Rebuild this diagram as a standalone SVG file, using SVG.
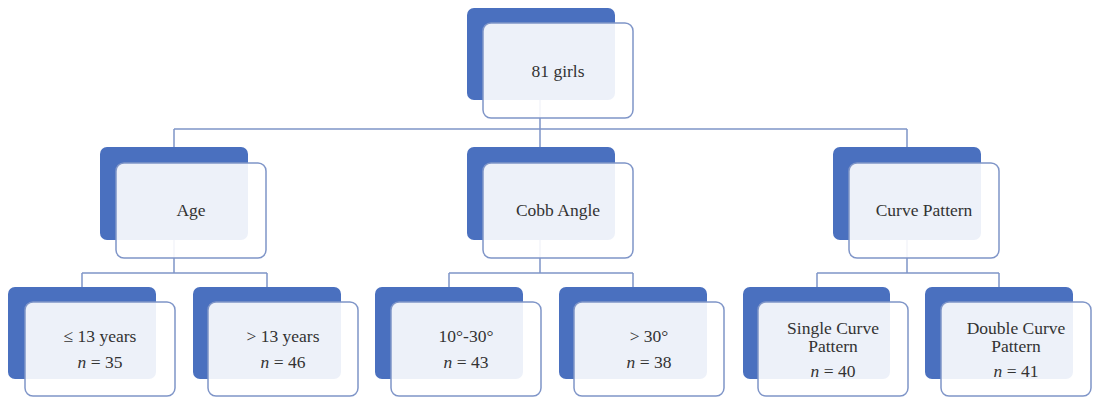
<svg xmlns="http://www.w3.org/2000/svg" width="1093" height="398" viewBox="0 0 1093 398">
<style>
.back{fill:#4a70bf;}
.front{fill:#ffffff;fill-opacity:0.9;stroke:#7f95c8;stroke-width:1.5;}
.conn{fill:none;stroke:#7f95c8;stroke-width:1.5;}
.t{font-family:'Liberation Serif','DejaVu Serif',serif;font-size:17.5px;fill:#333333;text-anchor:middle;}
</style>
<rect width="1093" height="398" fill="#ffffff"/>
<g id="connectors">
<path class="conn" d="M540,100 V129 M174,129 H907 M174,129 V147 M540,129 V147 M907,129 V147"/>
<path class="conn" d="M174,240 V273 M82,273 H267 M82,273 V287 M267,273 V287"/>
<path class="conn" d="M540,240 V273 M449,273 H633 M449,273 V287 M633,273 V287"/>
<path class="conn" d="M907,240 V273 M817,273 H999 M817,273 V287 M999,273 V287"/>
</g>
<g id="n-root">
<rect class="back" x="467" y="8" width="148" height="92" rx="7"/>
<rect class="front" x="483" y="23" width="150" height="95" rx="8"/>
<text class="t" x="558" y="77" font-family="Liberation Serif, DejaVu Serif, serif">81 girls</text>
</g>
<g id="n-age">
<rect class="back" x="100" y="147" width="148" height="93" rx="7"/>
<rect class="front" x="116" y="163" width="150" height="95" rx="8"/>
<text class="t" x="191" y="216">Age</text>
</g>
<g id="n-cobb">
<rect class="back" x="467" y="147" width="148" height="93" rx="7"/>
<rect class="front" x="483" y="163" width="150" height="95" rx="8"/>
<text class="t" x="558" y="216">Cobb Angle</text>
</g>
<g id="n-curve">
<rect class="back" x="833" y="147" width="148" height="93" rx="7"/>
<rect class="front" x="849" y="163" width="150" height="95" rx="8"/>
<text class="t" x="924" y="216">Curve Pattern</text>
</g>
<g id="n-age-le13">
<rect class="back" x="8" y="287" width="148" height="92" rx="7"/>
<rect class="front" x="25" y="302" width="150" height="94" rx="8"/>
<text class="t" x="100" y="342">≤ 13 years</text>
<text class="t" x="100" y="368"><tspan font-style="italic">n</tspan> = 35</text>
</g>
<g id="n-age-gt13">
<rect class="back" x="193" y="287" width="148" height="92" rx="7"/>
<rect class="front" x="208" y="302" width="150" height="94" rx="8"/>
<text class="t" x="283" y="342">&gt; 13 years</text>
<text class="t" x="283" y="368"><tspan font-style="italic">n</tspan> = 46</text>
</g>
<g id="n-cobb-10-30">
<rect class="back" x="375" y="287" width="148" height="92" rx="7"/>
<rect class="front" x="391" y="302" width="150" height="94" rx="8"/>
<text class="t" x="466" y="342">10°-30°</text>
<text class="t" x="466" y="368"><tspan font-style="italic">n</tspan> = 43</text>
</g>
<g id="n-cobb-gt30">
<rect class="back" x="559" y="287" width="148" height="92" rx="7"/>
<rect class="front" x="574" y="302" width="150" height="94" rx="8"/>
<text class="t" x="649" y="342">&gt; 30°</text>
<text class="t" x="649" y="368"><tspan font-style="italic">n</tspan> = 38</text>
</g>
<g id="n-curve-single">
<rect class="back" x="743" y="287" width="147" height="92" rx="7"/>
<rect class="front" x="758" y="302" width="150" height="94" rx="8"/>
<text class="t" x="833" y="334">Single Curve</text>
<text class="t" x="833" y="352">Pattern</text>
<text class="t" x="833" y="377"><tspan font-style="italic">n</tspan> = 40</text>
</g>
<g id="n-curve-double">
<rect class="back" x="925" y="287" width="148" height="92" rx="7"/>
<rect class="front" x="941" y="302" width="150" height="94" rx="8"/>
<text class="t" x="1016" y="334">Double Curve</text>
<text class="t" x="1016" y="352">Pattern</text>
<text class="t" x="1016" y="377"><tspan font-style="italic">n</tspan> = 41</text>
</g>
</svg>
